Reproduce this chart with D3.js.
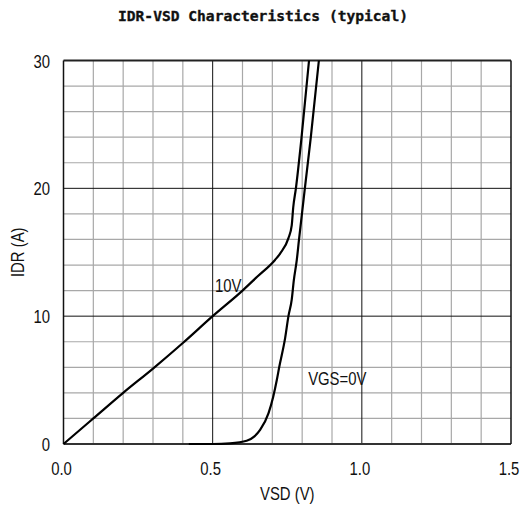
<!DOCTYPE html>
<html>
<head>
<meta charset="utf-8">
<script src="https://cdn.jsdelivr.net/npm/d3@7"></script>
<style>
  html, body { margin: 0; padding: 0; background: #fff; }
  svg { display: block; }
  .lbl { font-family: "Liberation Sans", Arial, sans-serif; font-size: 17.5px; fill: #111; }
  .title { font-family: "DejaVu Sans Mono", monospace; font-weight: bold; font-size: 14.5px; fill: #111; stroke: #111; stroke-width: 0.35px; }
</style>
</head>
<body>
<svg id="chart" width="521" height="506"></svg>
<script>
// Source-drain diode forward characteristics
const vsdGate10 = [0, 0.1, 0.2, 0.3, 0.4, 0.5, 0.6, 0.65, 0.709, 0.726, 0.754, 0.765, 0.770, 0.779, 0.798, 0.823];
const idrGate10 = [0, 2.0, 4.0, 5.9, 7.9, 10.0, 12.0, 13.1, 14.4, 14.9, 16.1, 17.1, 18.5, 20.0, 24.0, 30.0];

const vsdGate0 = [0.42, 0.5, 0.558, 0.614, 0.64, 0.659, 0.687, 0.703, 0.715, 0.723, 0.743, 0.754, 0.765, 0.772, 0.782, 0.789, 0.809, 0.829, 0.856];
const idrGate0 = [0, 0, 0.05, 0.25, 0.6, 1.1, 2.4, 3.7, 5.0, 6.0, 8.3, 10.0, 11.3, 12.8, 14.4, 15.9, 20.0, 24.0, 30.0];

const xTickLabels = ["0.0", "0.5", "1.0", "1.5"];
const xTickValues = [0, 0.5, 1.0, 1.5];
const yTickLabels = ["0", "10", "20", "30"];
const yTickValues = [0, 10, 20, 30];
const xMinorGrid = [0.1, 0.2, 0.3, 0.4, 0.6, 0.7, 0.8, 0.9, 1.1, 1.2, 1.3, 1.4];
const yMinorGrid = [2, 4, 6, 8, 12, 14, 16, 18, 22, 24, 26, 28];
const xMajorGrid = [0.5, 1.0];
const yMajorGrid = [10, 20];

const svg = d3.select("#chart");
const plotL = 63.5, plotR = 511, plotT = 60.5, plotB = 444;
const squeeze = 0.85;   // narrow the label glyphs horizontally

const x = d3.scaleLinear().domain([0, 1.5]).range([plotL, plotR]);
const y = d3.scaleLinear().domain([0, 30]).range([plotB, plotT]);

// Title
svg.append("text").attr("class", "title")
  .attr("x", 263).attr("y", 21).attr("text-anchor", "middle")
  .attr("textLength", 290).attr("lengthAdjust", "spacingAndGlyphs")
  .text("IDR-VSD Characteristics (typical)");

// Minor grid
const grid = svg.append("g");
grid.selectAll(".gx").data(xMinorGrid).join("line")
  .attr("class", "gx")
  .attr("x1", d => x(d)).attr("x2", d => x(d))
  .attr("y1", plotT).attr("y2", plotB)
  .attr("stroke", "#a8a8a8").attr("stroke-width", 1.2);
grid.selectAll(".gy").data(yMinorGrid).join("line")
  .attr("class", "gy")
  .attr("y1", d => y(d)).attr("y2", d => y(d))
  .attr("x1", plotL).attr("x2", plotR)
  .attr("stroke", "#a8a8a8").attr("stroke-width", 1.2);

// Major grid
grid.selectAll(".mx").data(xMajorGrid).join("line")
  .attr("class", "mx")
  .attr("x1", d => x(d)).attr("x2", d => x(d))
  .attr("y1", plotT).attr("y2", plotB)
  .attr("stroke", "#111").attr("stroke-width", 1);
grid.selectAll(".my").data(yMajorGrid).join("line")
  .attr("class", "my")
  .attr("y1", d => y(d)).attr("y2", d => y(d))
  .attr("x1", plotL).attr("x2", plotR)
  .attr("stroke", "#111").attr("stroke-width", 1);

// Frame
svg.append("line").attr("x1", plotL).attr("x2", plotR).attr("y1", plotT).attr("y2", plotT)
  .attr("stroke", "#222").attr("stroke-width", 2);
svg.append("line").attr("x1", plotL).attr("x2", plotR).attr("y1", plotB).attr("y2", plotB)
  .attr("stroke", "#333").attr("stroke-width", 2.2);
svg.append("line").attr("x1", plotL).attr("x2", plotL).attr("y1", plotT).attr("y2", plotB)
  .attr("stroke", "#111").attr("stroke-width", 1.5);
svg.append("line").attr("x1", plotR).attr("x2", plotR).attr("y1", plotT).attr("y2", plotB)
  .attr("stroke", "#111").attr("stroke-width", 1.5);

// Curves
const line = d3.line()
  .x(d => x(d[0])).y(d => y(d[1]))
  .curve(d3.curveMonotoneX);

const plot = svg.append("g");
plot.append("path")
  .datum(d3.zip(vsdGate10, idrGate10))
  .attr("d", line).attr("fill", "none")
  .attr("stroke", "#000").attr("stroke-width", 2.2);
plot.append("path")
  .datum(d3.zip(vsdGate0, idrGate0))
  .attr("d", line).attr("fill", "none")
  .attr("stroke", "#000").attr("stroke-width", 2.2);

// Text placed at (px, py) with condensed glyphs
function label(px, py, txt, anchor, rotate) {
  return svg.append("text").attr("class", "lbl")
    .attr("transform", `translate(${px},${py})${rotate ? " rotate(" + rotate + ")" : ""} scale(${squeeze},1)`)
    .attr("text-anchor", anchor || "start")
    .text(txt);
}

// Curve labels
label(x(0.508), y(11.9), "10V");
label(x(0.82), y(4.6), "VGS=0V");

// Tick labels
xTickValues.forEach((v, i) => label(x(v) - 2, 475, xTickLabels[i], "middle"));
yTickValues.forEach((v, i) => label(50, y(v) + 7, yTickLabels[i], "end"));

// Axis titles
label((plotL + plotR) / 2, 500, "VSD (V)", "middle");
label(24, (plotT + plotB) / 2, "IDR (A)", "middle", -90);
</script>
</body>
</html>
